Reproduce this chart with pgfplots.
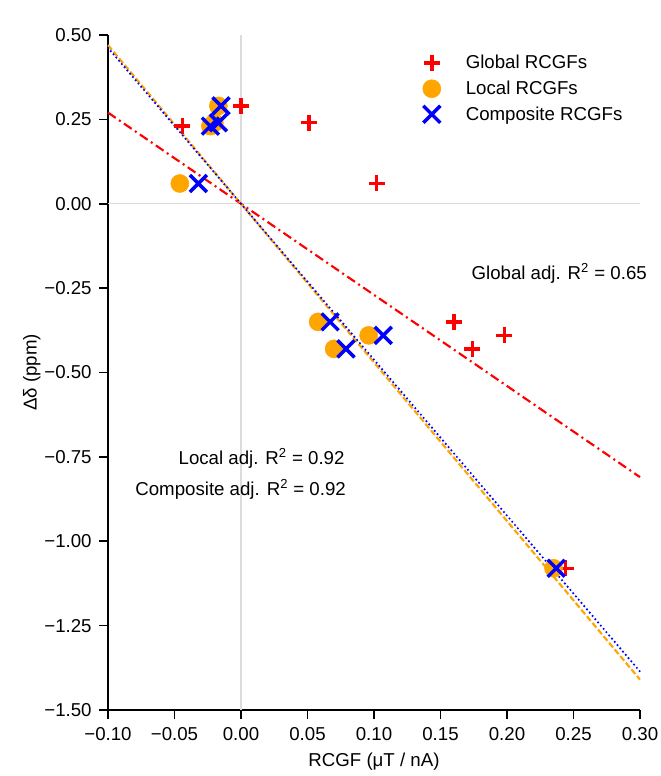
\documentclass[border=0pt]{standalone}
\usepackage{pgfplots}
\pgfplotsset{compat=1.18}
\usepackage{fontspec}
\setmainfont{Liberation Sans}
\definecolor{cred}{RGB}{255,0,0}
\definecolor{corange}{RGB}{255,165,0}
\definecolor{cblue}{RGB}{0,0,255}
\definecolor{cgrid}{RGB}{220,220,220}
\begin{document}
\begin{tikzpicture}
\useasboundingbox (-81pt,-49.5pt) rectangle (414.75pt,532.5pt);
\begin{axis}[
  at={(0,0)}, anchor=south west,
  scale only axis, width=399pt, height=506.25pt,
  xmin=-0.1, xmax=0.3, ymin=-1.5, ymax=0.5,
  axis x line*=bottom, axis y line*=left,
  axis line style={-, line width=1.2pt, black},
  tick style={line width=1.2pt, black},
  tick align=outside, major tick length=6.75pt,
  xtick={-0.1,-0.05,0,0.05,0.1,0.15,0.2,0.25,0.3},
  xticklabels={−0.10,−0.05,0.00,0.05,0.10,0.15,0.20,0.25,0.30},
  ytick={-1.5,-1.25,-1,-0.75,-0.5,-0.25,0,0.25,0.5},
  yticklabels={−1.50,−1.25,−1.00,−0.75,−0.50,−0.25,0.00,0.25,0.50},
  font=\fontsize{14}{17}\selectfont,
  tick label style={font=\fontsize{14}{17}\selectfont},
  xticklabel shift=3pt, yticklabel shift=2pt,
  xlabel={RCGF (μT / nA)}, ylabel={Δδ (ppm)},
  xlabel shift=2pt, ylabel shift=-4pt,
  clip=false,
  legend style={at={(0.576,0.978)}, anchor=north west, draw=none, fill=none,
    font=\fontsize{14}{17}\selectfont, row sep=3.5pt},
  legend cell align=left,
  legend image code/.code={\path (0cm,0cm) (1.08cm,0cm); \draw[mark repeat=2,mark phase=2,#1] plot coordinates {(0cm,0cm)(0.3cm,0cm)(0.6cm,0cm)};},
]
\draw[cgrid, line width=0.8pt] (axis cs:0,-1.5) -- (axis cs:0,0.5);
\draw[cgrid, line width=0.8pt] (axis cs:-0.1,0) -- (axis cs:0.3,0);

\addplot[only marks, mark=+, mark size=6pt, line width=2.6pt, cred] table {
x y
-0.044 0.23
0.000 0.29
0.051 0.24
0.102 0.06
0.160 -0.35
0.174 -0.43
0.198 -0.39
0.244 -1.08
};
\addlegendentry{Global RCGFs}
\addplot[only marks, mark=*, mark size=6.75pt, corange, mark options={draw=none, fill=corange}] table {
x y
-0.046 0.06
-0.023 0.23
-0.020 0.24
-0.017 0.29
0.058 -0.35
0.070 -0.43
0.096 -0.39
0.235 -1.08
};
\addlegendentry{Local RCGFs}
\addplot[only marks, mark=x, mark size=9pt, line width=2.6pt, cblue] table {
x y
-0.032 0.06
-0.023 0.23
-0.017 0.24
-0.015 0.29
0.067 -0.35
0.079 -0.43
0.107 -0.39
0.237 -1.08
};
\addlegendentry{Composite RCGFs}

\addplot[cred, line width=1.6pt, dash pattern=on 7pt off 3pt on 1.5pt off 3pt, forget plot] coordinates {(-0.1,0.27) (0.3,-0.81)};
\addplot[corange, line width=1.6pt, dash pattern=on 4.5pt off 2pt, forget plot] coordinates {(-0.1,0.47) (0.3,-1.41)};
\addplot[cblue, line width=1.8pt, line cap=round, dash pattern=on 0pt off 3.2pt, forget plot] coordinates {(-0.1,0.462) (0.3,-1.386)};

\node[anchor=east, inner sep=0pt] at (axis cs:0.3053,-0.205) {Global adj. R\textsuperscript{2} = 0.65};
\node[anchor=east, inner sep=0pt] at (axis cs:0.078,-0.754) {Local adj. R\textsuperscript{2} = 0.92};
\node[anchor=east, inner sep=0pt] at (axis cs:0.079,-0.846) {Composite adj. R\textsuperscript{2} = 0.92};
\end{axis}
\end{tikzpicture}
\end{document}
